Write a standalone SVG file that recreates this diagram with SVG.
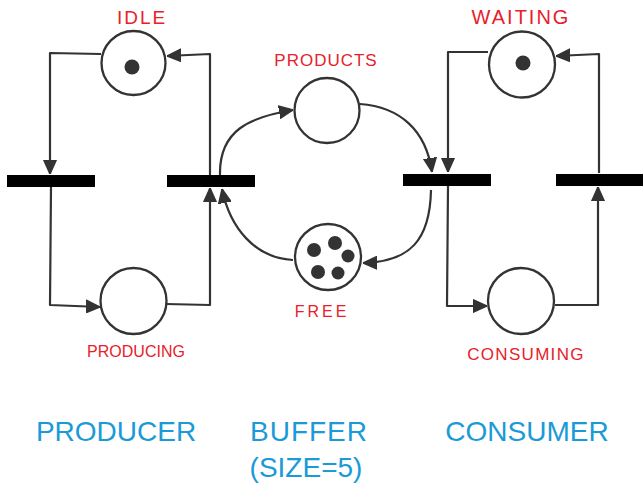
<svg xmlns="http://www.w3.org/2000/svg" width="643" height="486" viewBox="0 0 643 486">
<style>
.place{fill:#fff;stroke:#333;stroke-width:2.3}
.token{fill:#333}
.trans{fill:#000}
.arc{fill:none;stroke:#333;stroke-width:2.2;stroke-linejoin:round;marker-end:url(#ah)}
.lbl{font-family:"Liberation Sans",Arial,sans-serif;fill:#e8202a;text-anchor:middle}
.big{font-family:"Liberation Sans",Arial,sans-serif;fill:#1a9ad6;text-anchor:middle;font-size:28px}
</style>
<defs>
<marker id="ah" viewBox="0 0 10 10" refX="10" refY="5" markerWidth="14" markerHeight="14" markerUnits="userSpaceOnUse" orient="auto">
<path d="M0,0.5 L10,5 L0,9.5 z" fill="#333" stroke="#333" stroke-width="1" stroke-linejoin="round"/>
</marker>
</defs>
<g id="connectors">
<path class="arc" d="M101,54 L50,53 L50,174"/>
<path class="arc" d="M210,175 L210,54 L167,56"/>
<path class="arc" d="M51,187 L50,305 L100,307"/>
<path class="arc" d="M166,304 L210,305 L210,188"/>
<path class="arc" d="M220,175 C219,130 250,117 293,110"/>
<path class="arc" d="M360,104 C400,107 426,130 432,172"/>
<path class="arc" d="M293,260 C255,258 230,228 222,189"/>
<path class="arc" d="M431,190 C430,240 410,262 363,263"/>
<path class="arc" d="M488,52 L448,52 L448,172"/>
<path class="arc" d="M599,173 L599,54 L556,56"/>
<path class="arc" d="M448,186 L447,306 L487,306"/>
<path class="arc" d="M555,305 L598,305 L598,187"/>
</g>
<g id="idle">
<circle class="place" cx="133.5" cy="63" r="32"/>
<circle class="token" cx="132" cy="67" r="7.5"/>
<text class="lbl" x="142" y="24" font-size="19" letter-spacing="2">IDLE</text>
</g>
<g id="producing">
<circle class="place" cx="133.5" cy="301" r="33"/>
<text class="lbl" x="136" y="357" font-size="16">PRODUCING</text>
</g>
<g id="products">
<circle class="place" cx="327" cy="110.5" r="32.5"/>
<text class="lbl" x="326" y="66" font-size="17" letter-spacing="1">PRODUCTS</text>
</g>
<g id="free">
<circle class="place" cx="328" cy="257" r="33"/>
<circle class="token" cx="314" cy="250" r="7"/>
<circle class="token" cx="335" cy="243" r="7"/>
<circle class="token" cx="348" cy="256" r="6.5"/>
<circle class="token" cx="318" cy="272" r="7"/>
<circle class="token" cx="338" cy="273" r="6.5"/>
<text class="lbl" x="322" y="317" font-size="16" letter-spacing="3">FREE</text>
</g>
<g id="waiting">
<circle class="place" cx="522" cy="64.5" r="33"/>
<circle class="token" cx="523" cy="63" r="7.5"/>
<text class="lbl" x="521" y="24" font-size="20" letter-spacing="2">WAITING</text>
</g>
<g id="consuming">
<circle class="place" cx="521" cy="301" r="33"/>
<text class="lbl" x="526" y="360" font-size="17" letter-spacing="1.3">CONSUMING</text>
</g>
<g id="t1"><rect class="trans" x="7" y="175" width="88" height="12"/></g>
<g id="t2"><rect class="trans" x="167" y="175" width="88" height="12"/></g>
<g id="t3"><rect class="trans" x="403" y="174" width="88" height="12"/></g>
<g id="t4"><rect class="trans" x="556" y="174" width="87" height="12"/></g>
<g id="titles">
<text class="big" x="116" y="441">PRODUCER</text>
<text class="big" x="309" y="441" letter-spacing="1">BUFFER</text>
<text class="big" x="306" y="477" font-size="26">(SIZE=5)</text>
<text class="big" x="527" y="441">CONSUMER</text>
</g>
</svg>
